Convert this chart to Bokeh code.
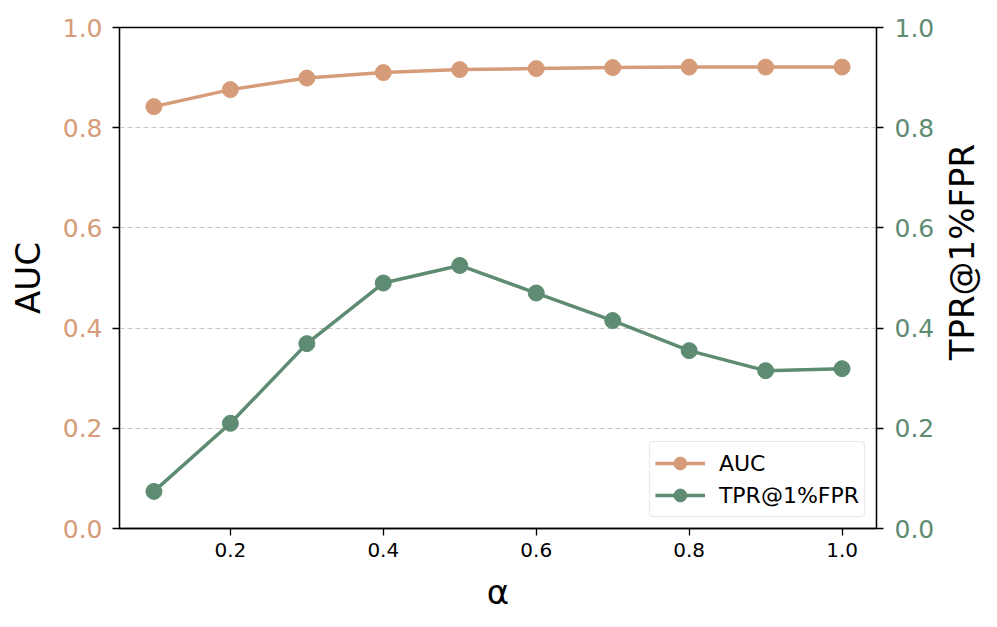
import math
from bokeh.plotting import figure
from bokeh.layouts import row
from bokeh.models import LinearAxis, Range1d, FixedTicker, Legend, LegendItem, PrintfTickFormatter
from bokeh.core.properties import value
from bokeh.embed import file_html
from bokeh.resources import INLINE

alpha = [0.1, 0.2, 0.3, 0.4, 0.5, 0.6, 0.7, 0.8, 0.9, 1.0]
auc = [0.842, 0.876, 0.899, 0.910, 0.916, 0.918, 0.920, 0.921, 0.921, 0.921]
tpr = [0.074, 0.210, 0.369, 0.490, 0.525, 0.470, 0.415, 0.355, 0.315, 0.319]
y_ticks = [0.0, 0.2, 0.4, 0.6, 0.8, 1.0]
x_ticks = [0.2, 0.4, 0.6, 0.8, 1.0]
right_title = "TPR@1%FPR"

C_AUC = "#D69B78"
C_TPR = "#5E8C73"
FONT = "DejaVu Sans"
H = 619

p = figure(width=937, height=H, output_backend="svg", toolbar_location=None,
           x_range=Range1d(0.055, 1.045), y_range=Range1d(0, 1),
           min_border_left=119, min_border_right=60, min_border_top=27, min_border_bottom=91)
p.extra_y_ranges = {"tpr": Range1d(0, 1)}

p.outline_line_color = "black"
p.outline_line_width = 1.3
p.xgrid.visible = False
p.ygrid.ticker = FixedTicker(ticks=y_ticks)
p.ygrid.grid_line_color = "#c8c8c8"
p.ygrid.grid_line_dash = "5 3"
p.ygrid.grid_line_width = 1

def style_axis(ax, color, size):
    ax.axis_line_color = "black"
    ax.axis_line_width = 1.3
    ax.major_tick_line_color = "black"
    ax.major_tick_line_width = 1.3
    ax.major_tick_out = 7
    ax.major_tick_in = 0
    ax.minor_tick_line_color = None
    ax.major_label_text_color = color
    ax.major_label_text_font = FONT
    ax.major_label_text_font_size = size
    ax.axis_label_text_font = FONT
    ax.axis_label_text_font_style = "normal"
    ax.axis_label_text_color = "black"
    ax.axis_label_text_font_size = "34px"
    ax.formatter = PrintfTickFormatter(format="%.1f")

xa = p.xaxis[0]
xa.ticker = FixedTicker(ticks=x_ticks)
style_axis(xa, "black", "20px")
xa.axis_label = "α"
xa.major_label_standoff = 7
xa.axis_label_standoff = 12

ya = p.yaxis[0]
ya.ticker = FixedTicker(ticks=y_ticks)
style_axis(ya, C_AUC, "25px")
ya.axis_label = "AUC"
ya.major_label_standoff = 10
ya.axis_label_standoff = 12

ra = LinearAxis(y_range_name="tpr", ticker=FixedTicker(ticks=y_ticks))
style_axis(ra, C_TPR, "25px")
ra.major_label_standoff = 11
p.add_layout(ra, "right")

l1 = p.line(alpha, auc, line_color=C_AUC, line_width=3.5)
c1 = p.scatter(alpha, auc, size=16, fill_color=C_AUC, line_color=C_AUC)
l2 = p.line(alpha, tpr, line_color=C_TPR, line_width=3.5, y_range_name="tpr")
c2 = p.scatter(alpha, tpr, size=16, fill_color=C_TPR, line_color=C_TPR, y_range_name="tpr")

legend = Legend(items=[LegendItem(label="AUC", renderers=[l1, c1]),
                       LegendItem(label="TPR@1%FPR", renderers=[l2, c2])],
                location="bottom_right")
legend.label_text_font = FONT
legend.label_text_font_size = "22px"
legend.label_text_color = "black"
legend.border_line_color = "#d0d0d0"
legend.border_line_width = 1.5
legend.border_radius = 4
legend.background_fill_alpha = 0.8
legend.glyph_width = 50
legend.glyph_height = 32
legend.label_standoff = 14
legend.label_height = 32
legend.spacing = 0
legend.padding = 5
legend.margin = 11
p.add_layout(legend)

# narrow side panel carrying the right-axis title (reads bottom-to-top)
side = figure(width=44, height=H, output_backend="svg", toolbar_location=None,
              x_range=Range1d(0, 1), y_range=Range1d(0, H),
              min_border=0, min_border_left=0, min_border_right=0,
              min_border_top=0, min_border_bottom=0)
side.axis.visible = False
side.grid.visible = False
side.outline_line_color = None
side.text(x=[0.55], y=[H - 277.5], text=[right_title], angle=math.pi / 2,
          text_align="center", text_baseline="middle",
          text_font=value(FONT), text_font_size="34px", text_color="black")

layout = row(p, side, spacing=0)
open("out.html", "w").write(file_html(layout, INLINE))
